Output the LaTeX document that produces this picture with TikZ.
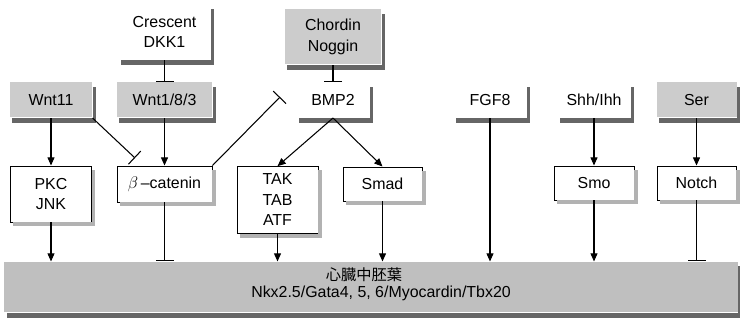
\documentclass[tikz,border=0pt]{standalone}
\usepackage{fontspec}
\setmainfont{Liberation Sans}
\newfontfamily\cjk{Noto Sans CJK JP}
\usetikzlibrary{arrows.meta}
\begin{document}
\begin{tikzpicture}[x=0.03cm,y=-0.03cm,>={Triangle[length=7pt,width=6pt]},line width=0.9pt,
  font=\fontsize{13.6}{17.5}\selectfont,
  lig/.style={fill=white,inner sep=0pt},
  gbox/.style={fill=gray!40,inner sep=0pt},
  tbox/.style={draw,fill=white,inner sep=0pt,line width=0.8pt},
  inh/.style={-{Bar[width=0.54cm]}}]
\useasboundingbox (0,0) rectangle (740,320);
\node[gbox,fill=gray!50,minimum width=21.99cm,minimum height=1.5cm] (band) at (371,287) {};
\node (meso) at (364,275) {\cjk\fontsize{13}{14}\selectfont 心臓中胚葉};
\node (genes) at (381,293) {Nkx2.5/Gata4, 5, 6/Myocardin/Tbx20};
\node[lig,minimum width=2.76cm,minimum height=1.65cm,align=center] (crescent) at (164.5,32) {Crescent\\DKK1};
\node[gbox,minimum width=2.88cm,minimum height=1.65cm,align=center] (chordin) at (333,37) {Chordin\\Noggin};
\node[gbox,minimum width=2.46cm,minimum height=1.05cm] (wnt11) at (51,100) {Wnt11};
\node[gbox,minimum width=2.85cm,minimum height=1.05cm] (wnt183) at (164.5,100) {Wnt1/8/3};
\node[lig,minimum width=2.2cm,minimum height=1.05cm] (bmp2) at (333,100) {BMP2};
\node[lig,minimum width=2.2cm,minimum height=1.05cm] (fgf8) at (490,100) {FGF8};
\node[lig,minimum width=2.2cm,minimum height=1.05cm] (shh) at (594,100) {Shh/Ihh};
\node[gbox,minimum width=2.4cm,minimum height=1.05cm] (ser) at (696.5,100) {Ser};
\node[tbox,minimum width=2.43cm,minimum height=1.68cm,align=center] (pkc) at (51,194) {PKC\\JNK};
\node[tbox,minimum width=2.85cm,minimum height=1.08cm] (beta) at (164.5,184) {$\beta$\,--catenin};
\node[tbox,minimum width=2.43cm,minimum height=2.0cm,align=center] (tak) at (277.5,200) {TAK\\TAB\\ATF};
\node[tbox,minimum width=2.37cm,minimum height=1.02cm] (smad) at (382.5,184) {Smad};
\node[tbox,minimum width=2.4cm,minimum height=1.02cm] (smo) at (594,183) {Smo};
\node[tbox,minimum width=2.37cm,minimum height=1.02cm] (notch) at (696.5,183) {Notch};
\foreach \n in {band,crescent,chordin,wnt11,wnt183,bmp2,fgf8,shh,ser}{
  \fill[black!60] ([xshift=0.09cm]\n.south west) rectangle ([shift={(0.09cm,-0.15cm)}]\n.south east);
  \fill[black!60] ([yshift=-0.15cm]\n.north east) rectangle ([shift={(0.09cm,-0.15cm)}]\n.south east);
}
\foreach \n in {pkc,beta,tak,smad,smo,notch}{
  \fill[gray!60] ([xshift=0.1cm]\n.south west) rectangle ([shift={(0.1cm,-0.12cm)}]\n.south east);
  \fill[gray!60] ([yshift=-0.12cm]\n.north east) rectangle ([shift={(0.1cm,-0.12cm)}]\n.south east);
}
\coordinate (wntbar) at (135,158);
\coordinate (bmpbar) at (280,97);
\draw[inh] (crescent) -- (wnt183);
\draw[inh] (chordin) -- (bmp2);
\draw[->] (wnt11) -- (pkc);
\draw[inh] (wnt11.south east) -- (wntbar);
\draw[->] (wnt183) -- (beta);
\draw[inh] (beta.north east) -- (bmpbar);
\draw[->] (bmp2.south) -- (tak.north);
\draw[->] (bmp2.south) -- (smad.north);
\draw[->] (fgf8) -- (fgf8 |- band.north);
\draw[->] (shh) -- (smo);
\draw[->] (ser) -- (notch);
\draw[->] (pkc) -- (pkc |- band.north);
\draw[inh] (beta) -- (beta |- band.north);
\draw[->] (tak) -- (tak |- band.north);
\draw[->] (smad) -- (smad |- band.north);
\draw[->] (smo) -- (smo |- band.north);
\draw[inh] (notch) -- (notch |- band.north);
\end{tikzpicture}
\end{document}
